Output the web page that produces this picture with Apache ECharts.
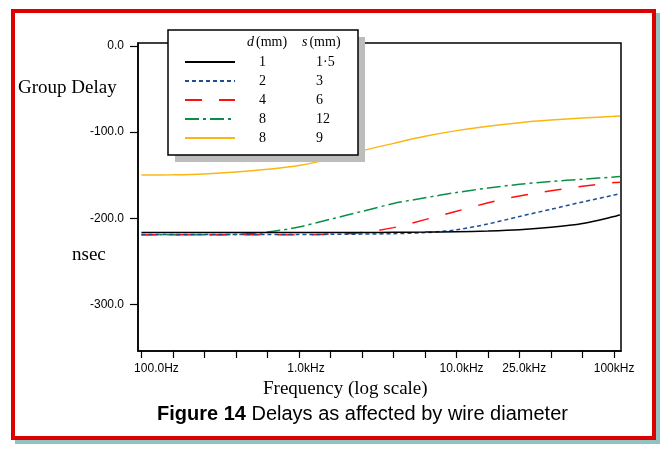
<!DOCTYPE html>
<html>
<head>
<meta charset="utf-8">
<script src="https://cdn.jsdelivr.net/npm/echarts@6/dist/echarts.min.js"></script>
<style>
html,body{margin:0;padding:0;background:#fff;}
#chart{width:665px;height:451px;}
</style>
</head>
<body>
<div id="chart"></div>
<script>
// ---- data (frequency in Hz, group delay in nsec) ----
const freqHz   = [100, 158.5, 251.2, 398.1, 631, 1000, 1585, 2512, 3981, 6310, 10000, 15850, 25120, 39810, 63100, 100000, 109000];
const delayD1  = [-216.5, -216.5, -216.5, -216.5, -216.5, -216.5, -216.5, -216.5, -216.3, -216, -215.5, -214.7, -213.3, -210.5, -206, -198, -196];
const delayD2  = [-218.8, -218.8, -218.8, -218.8, -218.8, -218.7, -218.6, -218.3, -217.8, -216.6, -213.3, -206.5, -197.8, -189.5, -181, -173, -171.5];
const delayD4  = [-219, -219, -219, -219, -219, -219, -218.5, -216.5, -210.8, -201.5, -191.8, -182, -174, -168, -162.8, -158.5, -158];
const delayD8s12 = [-219, -219, -219, -218.7, -216, -210, -201, -192, -182.8, -176.2, -170, -164.8, -160.5, -157.2, -154.6, -152, -151.5];
const delayD8s9  = [-149.8, -149.5, -148.5, -146.3, -143, -138.6, -131, -121.5, -113, -104.8, -98.2, -93, -89, -86, -83.6, -81.6, -81.2];

const seriesNames = ['d1s1.5', 'd2s3', 'd4s6', 'd8s12', 'd8s9'];
const legendD = ['1', '2', '4', '8', '8'];
const legendS = ['1\u00b75', '3', '6', '12', '9'];

const xTickHz   = [100, 158.5, 251.2, 398.1, 631, 1000, 1585, 2512, 3981, 6310, 10000, 15850, 25120, 39810, 63100, 100000];
const xLabelHz  = [100, 1000, 10000, 25000, 100000];
const xLabelTxt = ['100.0Hz', '1.0kHz', '10.0kHz', '25.0kHz', '100kHz'];
const yTicks    = [0, -100, -200, -300];

// ---- build ----
const lg = v => Math.log10(v);
const toPts = arr => freqHz.map((f, i) => [lg(f), arr[i]]);
const xTickVals = xTickHz.map(lg);
const xLabelVals = xLabelHz.map(lg);
const xLabelPad = [30, 14, 10, 10, 0];

const colors = ['#000000', '#1c4f94', '#ff1010', '#0b8f47', '#fbb614'];
const dashes = ['solid', [4, 3], [17, 17], [14, 4, 3, 4], 'solid'];
const dataSets = [delayD1, delayD2, delayD4, delayD8s12, delayD8s9];

const serif = 'Liberation Serif';
const sans = 'Liberation Sans';

const xRich = {};
xLabelPad.forEach((p, i) => { xRich['o' + i] = {padding: [0, 0, 0, p], fontFamily: sans, fontSize: 12, color: '#000'}; });

const chart = echarts.init(document.getElementById('chart'), null, {renderer: 'canvas'});
chart.setOption({
  animation: false,
  backgroundColor: '#fff',
  graphic: [
    {type: 'rect', z: -10, shape: {x: 15, y: 13, width: 645, height: 431}, style: {fill: '#8fc3c2'}},
    {type: 'rect', z: -9, shape: {x: 13, y: 11, width: 641, height: 427}, style: {fill: '#fff', stroke: '#dd0000', lineWidth: 4}},
    {type: 'text', z: 10, left: 18, top: 79, style: {text: 'Group Delay', font: '19px "' + serif + '"', fill: '#000'}},
    {type: 'text', z: 10, left: 72, top: 246, style: {text: 'nsec', font: '19px "' + serif + '"', fill: '#000'}},
    {type: 'text', z: 10, left: 263, top: 380, style: {text: 'Frequency (log scale)', font: '19px "' + serif + '"', fill: '#000'}},
    {type: 'text', z: 10, left: 157, top: 404, style: {
      text: '{b|Figure 14} Delays as affected by wire diameter',
      font: '20px "' + sans + '"', fill: '#000',
      rich: {b: {fontWeight: 'bold', fontFamily: sans, fontSize: 20}}
    }},
    // legend frame and drop shadow
    {type: 'rect', z: 15, shape: {x: 175, y: 37, width: 190, height: 125}, style: {fill: '#bdbdbd'}},
    {type: 'rect', z: 16, shape: {x: 168, y: 30, width: 190, height: 125}, style: {fill: '#fff', stroke: '#000', lineWidth: 1.5}},
    {type: 'text', z: 100, left: 247, top: 35, style: {
      text: '{i|d}(mm)',
      font: '14px "' + serif + '"', fill: '#000',
      rich: {i: {fontStyle: 'italic', fontFamily: serif, fontSize: 14, padding: [0, 2, 0, 0]}}
    }},
    {type: 'text', z: 100, left: 302, top: 35, style: {
      text: '{i|s}(mm)',
      font: '14px "' + serif + '"', fill: '#000',
      rich: {i: {fontStyle: 'italic', fontFamily: serif, fontSize: 14, padding: [0, 2, 0, 0]}}
    }}
  ],
  grid: {
    left: 138, right: 44, top: 43, bottom: 100,
    show: true, borderColor: '#000', borderWidth: 1.5, backgroundColor: 'transparent'
  },
  legend: {
    orient: 'vertical',
    left: 168, top: 30,
    padding: [25, 0, 10, 16],
    itemGap: 5, itemWidth: 50, itemHeight: 14,
    backgroundColor: 'transparent',
    borderWidth: 0,
    itemStyle: {color: 'rgba(0,0,0,0)', borderColor: 'rgba(0,0,0,0)', borderWidth: 0},
    data: seriesNames,
    selectedMode: false,
    formatter: name => {
      const i = seriesNames.indexOf(name);
      return '{p|\u00a0}{a|' + legendD[i] + '}{b|' + legendS[i] + '}';
    },
    textStyle: {
      fontFamily: serif, fontSize: 14, color: '#000',
      rich: {
        p: {width: 19, align: 'left', fontFamily: serif, fontSize: 14},
        a: {width: 57, align: 'left', fontFamily: serif, fontSize: 14, color: '#000'},
        b: {width: 42, align: 'left', fontFamily: serif, fontSize: 14, color: '#000'}
      }
    },
    z: 20
  },
  xAxis: {
    type: 'value',
    min: 1.978, max: 5.044,
    axisLine: {show: true, onZero: false, lineStyle: {color: '#000', width: 1.5}},
    axisTick: {show: true, length: 7, customValues: xTickVals, lineStyle: {color: '#000', width: 1.2}},
    axisLabel: {
      customValues: xLabelVals, margin: 12,
      fontFamily: sans, fontSize: 12, color: '#000',
      rich: xRich,
      formatter: v => {
        let best = 0, bd = 1e9;
        xLabelVals.forEach((lv, i) => { const d = Math.abs(lv - v); if (d < bd) { bd = d; best = i; } });
        return '{o' + best + '|' + xLabelTxt[best] + '}';
      }
    },
    splitLine: {show: false}
  },
  yAxis: {
    type: 'value',
    min: -354, max: 3.5,
    axisLine: {show: true, onZero: false, lineStyle: {color: '#000', width: 1.5}},
    axisTick: {show: true, length: 8, customValues: yTicks, lineStyle: {color: '#000', width: 1.2}},
    axisLabel: {
      customValues: yTicks, margin: 14,
      fontFamily: sans, fontSize: 12, color: '#000',
      formatter: v => v.toFixed(1)
    },
    splitLine: {show: false}
  },
  series: seriesNames.map((n, i) => ({
    name: n,
    type: 'line',
    data: toPts(dataSets[i]),
    symbol: 'none',
    smooth: 0.3,
    lineStyle: {color: colors[i], width: 1.5, type: dashes[i]},
    itemStyle: {color: colors[i]},
    z: 2 + (4 - i)
  }))
});
</script>
</body>
</html>
